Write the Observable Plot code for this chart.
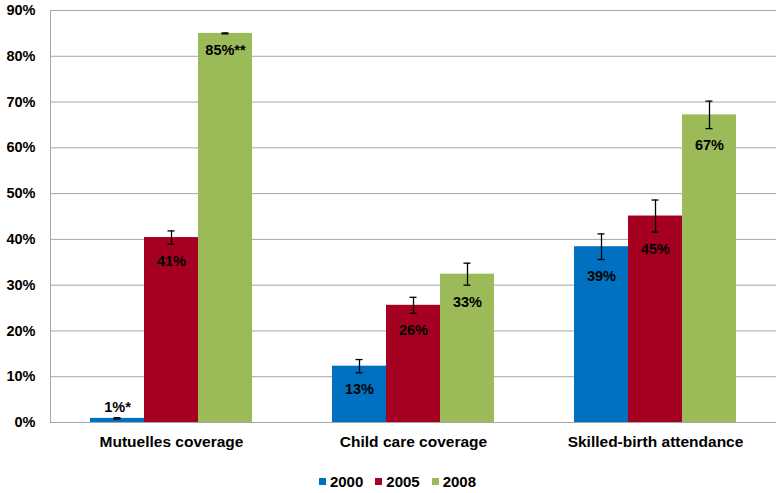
<!DOCTYPE html>
<html><head><meta charset="utf-8">
<script src="https://cdn.jsdelivr.net/npm/d3@7"></script>
<script src="https://cdn.jsdelivr.net/npm/@observablehq/plot@0.6"></script>
<style>
body{margin:0;background:#fff;font-family:"Liberation Sans",Arial,sans-serif;}
#legend{display:flex;justify-content:center;align-items:center;gap:12px;padding-left:14px;margin-top:8px;height:26px;font-weight:bold;font-size:15px;color:#000;}
#legend .item{display:flex;align-items:center;}
#legend .sw{display:inline-block;width:7px;height:7px;margin-right:4px;}
</style></head>
<body><div id="chart"></div><div id="legend"></div>
<script>
const categories = ["Mutuelles coverage", "Child care coverage", "Skilled-birth attendance"];
const years = ["2000", "2005", "2008"];
const colors = ["#0070C0", "#A50021", "#9BBB59"];
const values2000 = [0.9, 12.3, 38.4];
const values2005 = [40.4, 25.6, 45.1];
const values2008 = [85.0, 32.4, 67.2];
const err2000 = [0.15, 1.45, 2.8];
const err2005 = [1.45, 1.75, 3.5];
const err2008 = [0.1, 2.4, 3.0];
const labels2000 = ["1%*", "13%", "39%"];
const labels2005 = ["41%", "26%", "45%"];
const labels2008 = ["85%**", "33%", "67%"];
const yTicks = [0, 10, 20, 30, 40, 50, 60, 70, 80, 90];

const series = [
  {year: years[0], values: values2000, err: err2000, labels: labels2000},
  {year: years[1], values: values2005, err: err2005, labels: labels2005},
  {year: years[2], values: values2008, err: err2008, labels: labels2008}
];
const rows = [];
series.forEach(s => categories.forEach((c, i) => rows.push({
  category: c, year: s.year, value: s.values[i], err: s.err[i], label: s.labels[i]
})));

const chart = Plot.plot({
  width: 781, height: 460,
  marginTop: 10, marginBottom: 38, marginLeft: 49, marginRight: 5,
  style: {fontFamily: "'Liberation Sans', Arial, sans-serif", fontWeight: "bold", color: "#000", background: "#fff"},
  fx: {domain: categories, padding: 0, label: null},
  x: {domain: years, paddingInner: 0, paddingOuter: 0.74, axis: null},
  y: {domain: [0, 90], label: null},
  color: {domain: years, range: colors},
  marks: [
    Plot.gridY(yTicks, {stroke: "#a6a6a6", strokeOpacity: 1}),
    Plot.frame({anchor: "left", facet: "super", stroke: "#a6a6a6"}),
    Plot.barY(rows, {fx: "category", x: "year", y: "value", fill: "year"}),
    Plot.ruleX(rows, {fx: "category", x: "year", y1: d => d.value - d.err, y2: d => d.value + d.err, stroke: "#000", strokeWidth: 1.3}),
    Plot.tickY(rows, {fx: "category", x: "year", y: d => d.value - d.err, insetLeft: 23.5, insetRight: 23.5, stroke: "#000", strokeWidth: 1.3}),
    Plot.tickY(rows, {fx: "category", x: "year", y: d => d.value + d.err, insetLeft: 23.5, insetRight: 23.5, stroke: "#000", strokeWidth: 1.3}),
    Plot.text(rows.filter(d => d.value >= 5), {fx: "category", x: "year", y: d => d.value - d.err, text: "label", dy: 17, fontSize: 14.5, fontWeight: "bold", fill: "#000"}),
    Plot.text(rows.filter(d => d.value < 5), {fx: "category", x: "year", y: d => d.value + d.err, text: "label", dy: -10, fontSize: 14.5, fontWeight: "bold", fill: "#000"}),
    Plot.axisY({ticks: yTicks, tickFormat: d => d + "%", tickSize: 0, tickPadding: 15, fontSize: 14.5, fontWeight: "bold", label: null}),
    Plot.axisFx({anchor: "bottom", tickSize: 0, tickPadding: 13, fontSize: 15.5, fontWeight: "bold", label: null})
  ]
});
document.getElementById("chart").appendChild(chart);

const legend = document.getElementById("legend");
years.forEach((y, i) => {
  const item = document.createElement("div");
  item.className = "item";
  const sw = document.createElement("span");
  sw.className = "sw";
  sw.style.background = colors[i];
  item.appendChild(sw);
  item.appendChild(document.createTextNode(y));
  legend.appendChild(item);
});
</script>
</body></html>
